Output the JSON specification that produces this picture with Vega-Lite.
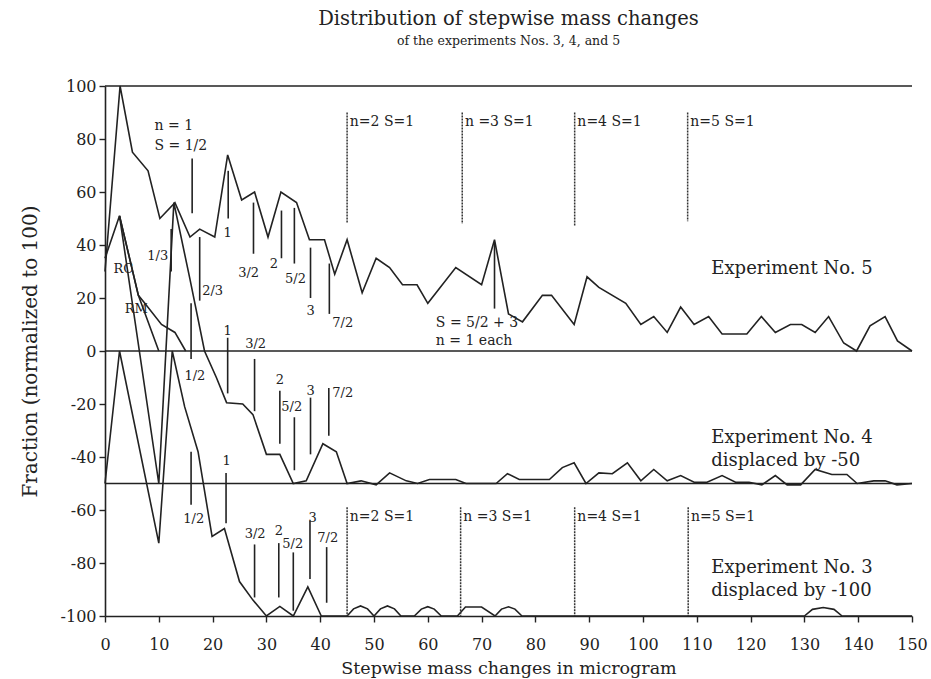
{
  "$schema": "https://vega.github.io/schema/vega-lite/v6.json",
  "width": 807,
  "height": 530,
  "autosize": {"type": "none"},
  "padding": {"left": 105, "top": 86, "right": 19, "bottom": 63},
  "background": "white",
  "config": {
    "view": {"stroke": null},
    "font": "DejaVu Serif",
    "axis": {"labelFont": "DejaVu Serif", "titleFont": "DejaVu Serif", "labelColor": "#222", "titleColor": "#222", "domainColor": "#222", "tickColor": "#222", "grid": false, "titleFontWeight": "normal"}
  },
  "title": {
    "text": "Distribution of stepwise mass changes",
    "subtitle": "of the experiments Nos. 3, 4, and 5",
    "anchor": "middle",
    "font": "DejaVu Serif",
    "fontSize": 19.5,
    "fontWeight": "normal",
    "color": "#222",
    "subtitleFont": "DejaVu Serif",
    "subtitleFontSize": 12.5,
    "subtitleColor": "#222",
    "subtitlePadding": 5,
    "offset": 30
  },
  "datasets": {
    "curves": [
      {"series": "Exp5", "x": 0, "y": 30}, {"series": "Exp5", "x": 2.8, "y": 100}, {"series": "Exp5", "x": 5.1, "y": 75}, {"series": "Exp5", "x": 8, "y": 68}, {"series": "Exp5", "x": 10.2, "y": 50}, {"series": "Exp5", "x": 13, "y": 56}, {"series": "Exp5", "x": 15.8, "y": 43}, {"series": "Exp5", "x": 17.6, "y": 46}, {"series": "Exp5", "x": 20.4, "y": 43}, {"series": "Exp5", "x": 22.8, "y": 74}, {"series": "Exp5", "x": 25.4, "y": 57}, {"series": "Exp5", "x": 27.8, "y": 60}, {"series": "Exp5", "x": 30.3, "y": 43}, {"series": "Exp5", "x": 32.7, "y": 60}, {"series": "Exp5", "x": 35.6, "y": 56}, {"series": "Exp5", "x": 38, "y": 42}, {"series": "Exp5", "x": 40.8, "y": 42}, {"series": "Exp5", "x": 42.7, "y": 29}, {"series": "Exp5", "x": 45, "y": 42}, {"series": "Exp5", "x": 47.8, "y": 22}, {"series": "Exp5", "x": 50.4, "y": 35}, {"series": "Exp5", "x": 52.9, "y": 31.5}, {"series": "Exp5", "x": 55.3, "y": 25}, {"series": "Exp5", "x": 58, "y": 25}, {"series": "Exp5", "x": 60, "y": 18}, {"series": "Exp5", "x": 65.2, "y": 31.5}, {"series": "Exp5", "x": 70, "y": 25}, {"series": "Exp5", "x": 72.4, "y": 42}, {"series": "Exp5", "x": 75, "y": 14}, {"series": "Exp5", "x": 77.6, "y": 11}, {"series": "Exp5", "x": 81.3, "y": 21}, {"series": "Exp5", "x": 83, "y": 21}, {"series": "Exp5", "x": 87.2, "y": 10}, {"series": "Exp5", "x": 89.6, "y": 28}, {"series": "Exp5", "x": 91.8, "y": 24}, {"series": "Exp5", "x": 96.8, "y": 18}, {"series": "Exp5", "x": 99.6, "y": 10}, {"series": "Exp5", "x": 102, "y": 13}, {"series": "Exp5", "x": 104.5, "y": 7}, {"series": "Exp5", "x": 107, "y": 16.6}, {"series": "Exp5", "x": 109.5, "y": 10}, {"series": "Exp5", "x": 112.2, "y": 13}, {"series": "Exp5", "x": 114.7, "y": 6.4}, {"series": "Exp5", "x": 119.3, "y": 6.4}, {"series": "Exp5", "x": 122, "y": 13}, {"series": "Exp5", "x": 124.6, "y": 7}, {"series": "Exp5", "x": 127.4, "y": 10}, {"series": "Exp5", "x": 129.5, "y": 10}, {"series": "Exp5", "x": 132, "y": 7}, {"series": "Exp5", "x": 134.5, "y": 13}, {"series": "Exp5", "x": 137.3, "y": 3}, {"series": "Exp5", "x": 139.7, "y": 0}, {"series": "Exp5", "x": 142.2, "y": 9.5}, {"series": "Exp5", "x": 145, "y": 13}, {"series": "Exp5", "x": 147.3, "y": 3.8}, {"series": "Exp5", "x": 150, "y": 0},
      {"series": "Exp4", "x": 0, "y": 35}, {"series": "Exp4", "x": 2.7, "y": 51}, {"series": "Exp4", "x": 10, "y": -50}, {"series": "Exp4", "x": 12.8, "y": 56}, {"series": "Exp4", "x": 15.8, "y": 27}, {"series": "Exp4", "x": 18.5, "y": 0}, {"series": "Exp4", "x": 20.7, "y": -10}, {"series": "Exp4", "x": 22.6, "y": -19.5}, {"series": "Exp4", "x": 25.6, "y": -20}, {"series": "Exp4", "x": 27.5, "y": -24}, {"series": "Exp4", "x": 30, "y": -39}, {"series": "Exp4", "x": 32.5, "y": -39}, {"series": "Exp4", "x": 35, "y": -50}, {"series": "Exp4", "x": 37.4, "y": -49}, {"series": "Exp4", "x": 40.5, "y": -35}, {"series": "Exp4", "x": 43, "y": -38}, {"series": "Exp4", "x": 45, "y": -50}, {"series": "Exp4", "x": 47.6, "y": -49}, {"series": "Exp4", "x": 50.4, "y": -50.5}, {"series": "Exp4", "x": 52.9, "y": -46}, {"series": "Exp4", "x": 56, "y": -49}, {"series": "Exp4", "x": 58.1, "y": -50}, {"series": "Exp4", "x": 60.3, "y": -48.5}, {"series": "Exp4", "x": 65.2, "y": -48.5}, {"series": "Exp4", "x": 67.1, "y": -50}, {"series": "Exp4", "x": 72.7, "y": -50}, {"series": "Exp4", "x": 74.8, "y": -46.3}, {"series": "Exp4", "x": 77, "y": -48.5}, {"series": "Exp4", "x": 82.6, "y": -48.5}, {"series": "Exp4", "x": 85, "y": -44}, {"series": "Exp4", "x": 87.2, "y": -42.2}, {"series": "Exp4", "x": 89.4, "y": -50}, {"series": "Exp4", "x": 91.8, "y": -46}, {"series": "Exp4", "x": 94.3, "y": -46.3}, {"series": "Exp4", "x": 97.1, "y": -42.2}, {"series": "Exp4", "x": 99.6, "y": -49}, {"series": "Exp4", "x": 102, "y": -44.7}, {"series": "Exp4", "x": 104.5, "y": -49}, {"series": "Exp4", "x": 107, "y": -47}, {"series": "Exp4", "x": 109.5, "y": -49.5}, {"series": "Exp4", "x": 111.9, "y": -49.5}, {"series": "Exp4", "x": 114.7, "y": -47}, {"series": "Exp4", "x": 117.2, "y": -49.5}, {"series": "Exp4", "x": 119.7, "y": -49.5}, {"series": "Exp4", "x": 122.1, "y": -50.5}, {"series": "Exp4", "x": 124.6, "y": -47}, {"series": "Exp4", "x": 126.8, "y": -50.5}, {"series": "Exp4", "x": 129.3, "y": -50.5}, {"series": "Exp4", "x": 132, "y": -44.7}, {"series": "Exp4", "x": 135.1, "y": -46.6}, {"series": "Exp4", "x": 137.9, "y": -46.6}, {"series": "Exp4", "x": 139.8, "y": -50}, {"series": "Exp4", "x": 142.9, "y": -49}, {"series": "Exp4", "x": 145, "y": -49}, {"series": "Exp4", "x": 147.2, "y": -50.5}, {"series": "Exp4", "x": 150, "y": -50},
      {"series": "Exp3", "x": 0, "y": -50}, {"series": "Exp3", "x": 2.7, "y": 0}, {"series": "Exp3", "x": 10, "y": -72.5}, {"series": "Exp3", "x": 12.5, "y": 0}, {"series": "Exp3", "x": 14.8, "y": -21}, {"series": "Exp3", "x": 17.3, "y": -38}, {"series": "Exp3", "x": 19.9, "y": -70}, {"series": "Exp3", "x": 22.2, "y": -67}, {"series": "Exp3", "x": 25, "y": -87}, {"series": "Exp3", "x": 27.5, "y": -94}, {"series": "Exp3", "x": 30, "y": -100}, {"series": "Exp3", "x": 32.5, "y": -96.4}, {"series": "Exp3", "x": 35, "y": -100}, {"series": "Exp3", "x": 37.7, "y": -89}, {"series": "Exp3", "x": 40.2, "y": -100}, {"series": "Exp3", "x": 45, "y": -100}, {"series": "Exp3", "x": 46.2, "y": -97.3}, {"series": "Exp3", "x": 47.5, "y": -96.2}, {"series": "Exp3", "x": 48.8, "y": -97.3}, {"series": "Exp3", "x": 50, "y": -100}, {"series": "Exp3", "x": 51.2, "y": -97.3}, {"series": "Exp3", "x": 52.5, "y": -96.2}, {"series": "Exp3", "x": 53.8, "y": -97.3}, {"series": "Exp3", "x": 55, "y": -100}, {"series": "Exp3", "x": 57.5, "y": -100}, {"series": "Exp3", "x": 58.8, "y": -97.4}, {"series": "Exp3", "x": 60, "y": -96.5}, {"series": "Exp3", "x": 61.2, "y": -97.4}, {"series": "Exp3", "x": 62.5, "y": -100}, {"series": "Exp3", "x": 65.5, "y": -100}, {"series": "Exp3", "x": 67, "y": -96.6}, {"series": "Exp3", "x": 70, "y": -96.6}, {"series": "Exp3", "x": 72.5, "y": -100}, {"series": "Exp3", "x": 73.7, "y": -97.4}, {"series": "Exp3", "x": 75, "y": -96.5}, {"series": "Exp3", "x": 76.2, "y": -97.4}, {"series": "Exp3", "x": 77.5, "y": -100}, {"series": "Exp3", "x": 130, "y": -100}, {"series": "Exp3", "x": 131.5, "y": -97.5}, {"series": "Exp3", "x": 133.5, "y": -96.8}, {"series": "Exp3", "x": 135.5, "y": -97.5}, {"series": "Exp3", "x": 137, "y": -100}, {"series": "Exp3", "x": 150, "y": -100},
      {"series": "RC", "x": 2.7, "y": 51}, {"series": "RC", "x": 6.2, "y": 21}, {"series": "RC", "x": 7.4, "y": 18}, {"series": "RC", "x": 10.5, "y": 10}, {"series": "RC", "x": 13, "y": 7}, {"series": "RC", "x": 15, "y": 0},
      {"series": "RM", "x": 2.7, "y": 51}, {"series": "RM", "x": 6.2, "y": 21}, {"series": "RM", "x": 10, "y": 0}
    ],
    "baselines": [{"y": 100}, {"y": 0}, {"y": -50}],
    "markers": [
      {"x": 12.3, "y": 46, "y2": 30}, {"x": 16.2, "y": 72.6, "y2": 52}, {"x": 17.6, "y": 43, "y2": 19}, {"x": 22.9, "y": 68, "y2": 50}, {"x": 27.6, "y": 56, "y2": 36.7}, {"x": 32.8, "y": 53, "y2": 35}, {"x": 35.2, "y": 54, "y2": 33}, {"x": 38.2, "y": 39, "y2": 20}, {"x": 41.7, "y": 33, "y2": 14}, {"x": 72.4, "y": 41, "y2": 16},
      {"x": 16, "y": 18, "y2": -3}, {"x": 22.8, "y": 5, "y2": -16}, {"x": 27.8, "y": -3, "y2": -22.7}, {"x": 32.5, "y": -15, "y2": -35}, {"x": 35.2, "y": -25, "y2": -45}, {"x": 38.2, "y": -17.6, "y2": -39}, {"x": 41.6, "y": -14, "y2": -32},
      {"x": 16, "y": -38, "y2": -58}, {"x": 22.5, "y": -46, "y2": -65}, {"x": 27.8, "y": -73, "y2": -93}, {"x": 32.3, "y": -72.5, "y2": -93}, {"x": 35, "y": -76, "y2": -98}, {"x": 38.1, "y": -64, "y2": -86}, {"x": 41.2, "y": -74, "y2": -95}
    ],
    "nlines": [
      {"x": 45, "y": 90, "y2": 48.5}, {"x": 66.4, "y": 90, "y2": 48}, {"x": 87.3, "y": 90, "y2": 47}, {"x": 108.3, "y": 90, "y2": 49},
      {"x": 45, "y": -59, "y2": -100}, {"x": 66.1, "y": -59, "y2": -100}, {"x": 87.3, "y": -59, "y2": -100}, {"x": 108.4, "y": -59, "y2": -100}
    ],
    "nlabels": [
      {"x": 45.5, "y": 86.5, "label": "n=2 S=1"}, {"x": 66.9, "y": 86.5, "label": "n =3 S=1"}, {"x": 87.8, "y": 86.5, "label": "n=4 S=1"}, {"x": 108.8, "y": 86.5, "label": "n=5 S=1"},
      {"x": 45.5, "y": -62.5, "label": "n=2 S=1"}, {"x": 66.6, "y": -62.5, "label": "n =3 S=1"}, {"x": 87.8, "y": -62.5, "label": "n=4 S=1"}, {"x": 108.9, "y": -62.5, "label": "n=5 S=1"}
    ],
    "fracLabels": [
      {"x": 9.8, "y": 36, "label": "1/3"}, {"x": 20, "y": 22.7, "label": "2/3"}, {"x": 22.8, "y": 44.6, "label": "1"}, {"x": 26.7, "y": 29.5, "label": "3/2"}, {"x": 31.4, "y": 33, "label": "2"}, {"x": 35.4, "y": 27, "label": "5/2"}, {"x": 38.2, "y": 15, "label": "3"}, {"x": 44.2, "y": 10.6, "label": "7/2"},
      {"x": 3.4, "y": 31, "label": "RC"}, {"x": 5.8, "y": 16, "label": "RM"},
      {"x": 16.7, "y": -9.5, "label": "1/2"}, {"x": 22.8, "y": 7.5, "label": "1"}, {"x": 28, "y": 2.6, "label": "3/2"}, {"x": 32.5, "y": -11, "label": "2"}, {"x": 34.7, "y": -21, "label": "5/2"}, {"x": 38.2, "y": -15, "label": "3"}, {"x": 44.2, "y": -16, "label": "7/2"},
      {"x": 16.5, "y": -63.5, "label": "1/2"}, {"x": 22.6, "y": -41.6, "label": "1"}, {"x": 27.9, "y": -69, "label": "3/2"}, {"x": 32.3, "y": -68, "label": "2"}, {"x": 34.9, "y": -73, "label": "5/2"}, {"x": 38.6, "y": -63, "label": "3"}, {"x": 41.4, "y": -70.7, "label": "7/2"}
    ],
    "notes": [
      {"x": 9.2, "y": 85, "label": "n = 1"}, {"x": 9.2, "y": 77.5, "label": "S = 1/2"},
      {"x": 61.5, "y": 10.7, "label": "S = 5/2 + 3"}, {"x": 61.5, "y": 3.8, "label": "n = 1 each"}
    ],
    "expLabels": [
      {"x": 112.7, "y": 31, "label": "Experiment No. 5"},
      {"x": 112.7, "y": -33, "label": "Experiment No. 4"},
      {"x": 112.7, "y": -41.5, "label": "displaced by -50"},
      {"x": 112.7, "y": -82, "label": "Experiment No. 3"},
      {"x": 112.7, "y": -90.5, "label": "displaced by -100"}
    ]
  },
  "layer": [
    {
      "data": {"name": "baselines"},
      "mark": {"type": "rule", "color": "#222", "strokeWidth": 1.6},
      "encoding": {
        "y": {"field": "y", "type": "quantitative", "scale": {"domain": [-100, 100], "nice": false},
          "axis": {"values": [-100, -80, -60, -40, -20, 0, 20, 40, 60, 80, 100], "labelFontSize": 16, "labelPadding": 3, "tickSize": 6, "domainWidth": 1.6, "tickWidth": 1.4,
            "labelExpr": "replace(datum.label, '\u2212', '-')",
            "title": "Fraction (normalized to 100)", "titleFontSize": 20, "titlePadding": 20}}
      }
    },
    {
      "data": {"name": "curves"},
      "mark": {"type": "line", "color": "#222", "strokeWidth": 1.6},
      "encoding": {
        "x": {"field": "x", "type": "quantitative", "scale": {"domain": [0, 150], "nice": false},
          "axis": {"values": [0, 5, 10, 15, 20, 25, 30, 35, 40, 45, 50, 55, 60, 65, 70, 75, 80, 85, 90, 95, 100, 105, 110, 115, 120, 125, 130, 135, 140, 145, 150],
            "labelExpr": "datum.value % 10 == 0 ? datum.label : ''",
            "tickSize": {"condition": {"test": "datum.value % 10 == 0", "value": 6}, "value": 4},
            "labelFontSize": 16, "labelPadding": 14, "domainWidth": 1.6, "tickWidth": 1.4, "labelFlush": false,
            "title": "Stepwise mass changes in microgram", "titleFontSize": 17.5, "titlePadding": 7}},
        "y": {"field": "y", "type": "quantitative"},
        "detail": {"field": "series", "type": "nominal"}
      }
    },
    {
      "data": {"name": "markers"},
      "mark": {"type": "rule", "color": "#222", "strokeWidth": 1.6},
      "encoding": {
        "x": {"field": "x", "type": "quantitative"},
        "y": {"field": "y", "type": "quantitative"},
        "y2": {"field": "y2"}
      }
    },
    {
      "data": {"name": "nlines"},
      "mark": {"type": "rule", "color": "#333", "strokeWidth": 1.5, "strokeDash": [2, 1]},
      "encoding": {
        "x": {"field": "x", "type": "quantitative"},
        "y": {"field": "y", "type": "quantitative"},
        "y2": {"field": "y2"}
      }
    },
    {
      "data": {"name": "nlabels"},
      "mark": {"type": "text", "align": "left", "baseline": "middle", "fontSize": 14, "font": "DejaVu Serif", "color": "#222"},
      "encoding": {
        "x": {"field": "x", "type": "quantitative"},
        "y": {"field": "y", "type": "quantitative"},
        "text": {"field": "label"}
      }
    },
    {
      "data": {"name": "fracLabels"},
      "mark": {"type": "text", "align": "center", "baseline": "middle", "fontSize": 13, "font": "DejaVu Serif", "color": "#222"},
      "encoding": {
        "x": {"field": "x", "type": "quantitative"},
        "y": {"field": "y", "type": "quantitative"},
        "text": {"field": "label"}
      }
    },
    {
      "data": {"name": "notes"},
      "mark": {"type": "text", "align": "left", "baseline": "middle", "fontSize": 14, "font": "DejaVu Serif", "color": "#222"},
      "encoding": {
        "x": {"field": "x", "type": "quantitative"},
        "y": {"field": "y", "type": "quantitative"},
        "text": {"field": "label"}
      }
    },
    {
      "data": {"name": "expLabels"},
      "mark": {"type": "text", "align": "left", "baseline": "middle", "fontSize": 18, "font": "DejaVu Serif", "color": "#222"},
      "encoding": {
        "x": {"field": "x", "type": "quantitative"},
        "y": {"field": "y", "type": "quantitative"},
        "text": {"field": "label"}
      }
    }
  ]
}
